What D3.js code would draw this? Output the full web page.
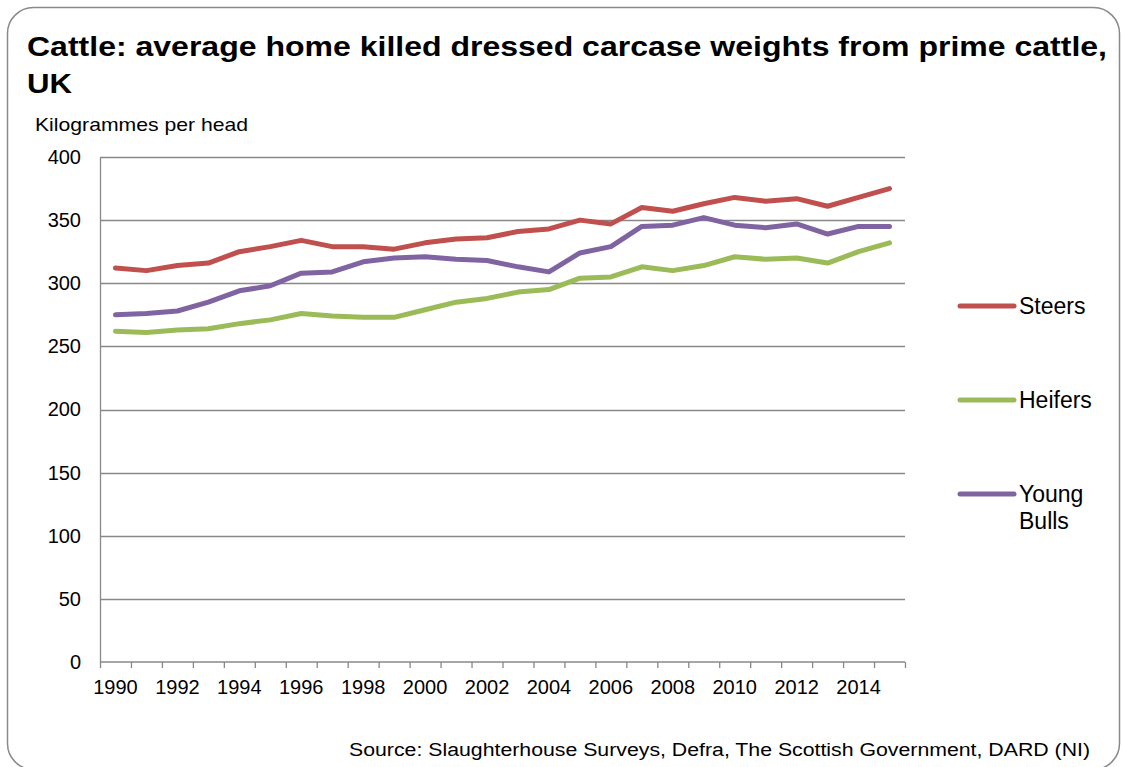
<!DOCTYPE html>
<html>
<head>
<meta charset="utf-8">
<script src="https://cdn.jsdelivr.net/npm/d3@7"></script>
<style>
  body { margin: 0; background: #fff; }
  svg { display: block; font-family: "Liberation Sans", Arial, sans-serif; }
</style>
</head>
<body>
<svg width="1123" height="767"></svg>
<script>
// data
var years = d3.range(1990, 2016);
var steers = [312, 310, 314, 316, 325, 329, 334, 329, 329, 327, 332, 335, 336, 341, 343, 350, 347, 360, 357, 363, 368, 365, 367, 361, 368, 375];
var heifers = [262, 261, 263, 264, 268, 271, 276, 274, 273, 273, 279, 285, 288, 293, 295, 304, 305, 313, 310, 314, 321, 319, 320, 316, 325, 332];
var bulls = [275, 276, 278, 285, 294, 298, 308, 309, 317, 320, 321, 319, 318, 313, 309, 324, 329, 345, 346, 352, 346, 344, 347, 339, 345, 345];
var yTicks = [0, 50, 100, 150, 200, 250, 300, 350, 400];

var series = [
  {name: ["Steers"], values: steers, color: "#C0504D", ly: 306},
  {name: ["Heifers"], values: heifers, color: "#9BBB59", ly: 400},
  {name: ["Young", "Bulls"], values: bulls, color: "#8064A2", ly: 494}
];

var svg = d3.select("svg");
var pLeft = 100, pRight = 905, pTop = 157, pBottom = 662;

// frame
svg.append("rect")
  .attr("x", 7.5).attr("y", 7.5)
  .attr("width", 1112).attr("height", 762)
  .attr("rx", 26).attr("ry", 26)
  .attr("fill", "none").attr("stroke", "#8a8a8a").attr("stroke-width", 1.5);

// title
var title = svg.append("text")
  .attr("font-weight", "bold").attr("font-size", 28).attr("fill", "#000");
title.append("tspan").attr("x", 27).attr("y", 56)
  .attr("textLength", 1080).attr("lengthAdjust", "spacingAndGlyphs")
  .text("Cattle: average home killed dressed carcase weights from prime cattle,");
title.append("tspan").attr("x", 27).attr("y", 93)
  .attr("textLength", 45).attr("lengthAdjust", "spacingAndGlyphs")
  .text("UK");

svg.append("text")
  .attr("x", 35).attr("y", 131)
  .attr("font-size", 19).attr("fill", "#000")
  .attr("textLength", 213).attr("lengthAdjust", "spacingAndGlyphs")
  .text("Kilogrammes per head");

var x = d3.scaleBand().domain(years).range([pLeft, pRight]);
var xi = d3.scaleLinear().domain([0, years.length]).range([pLeft, pRight]);
var y = d3.scaleLinear().domain([0, 400]).range([pBottom, pTop]);

// gridlines
svg.append("g")
  .selectAll("line")
  .data(yTicks.filter(function(d){ return d > 0; }))
  .enter().append("line")
  .attr("x1", pLeft).attr("x2", pRight)
  .attr("y1", function(d){ return Math.round(y(d)) + 0.5; })
  .attr("y2", function(d){ return Math.round(y(d)) + 0.5; })
  .attr("stroke", "#888").attr("stroke-width", 1.3);

// y axis
var yAxis = svg.append("g")
  .attr("transform", "translate(" + pLeft + ",0)")
  .call(d3.axisLeft(y).tickValues(yTicks).tickSize(0).tickPadding(19));
yAxis.select(".domain").attr("stroke", "#888").attr("stroke-width", 1.3);
yAxis.selectAll("text").attr("font-size", 20).attr("font-family", "Liberation Sans, Arial, sans-serif").attr("fill", "#000");

// x axis ticks at band boundaries
var xTickG = svg.append("g")
  .attr("transform", "translate(0," + pBottom + ")")
  .call(d3.axisBottom(xi).tickValues(d3.range(0, years.length + 1)).tickSize(6).tickFormat(""));
xTickG.selectAll("line, path").attr("stroke", "#888").attr("stroke-width", 1.3);
xTickG.select(".domain").attr("d", "M" + pLeft + ",0H" + pRight);

// x labels
var xLab = svg.append("g")
  .attr("transform", "translate(0," + pBottom + ")")
  .call(d3.axisBottom(x).tickValues(years.filter(function(d){ return d % 2 === 0; })).tickSize(0).tickPadding(18));
xLab.select(".domain").remove();
xLab.selectAll("text").attr("font-size", 20).attr("font-family", "Liberation Sans, Arial, sans-serif").attr("fill", "#000");

// lines
var line = d3.line()
  .x(function(d, i){ return x(years[i]) + x.bandwidth() / 2; })
  .y(function(d){ return y(d); });

svg.append("g").selectAll("path")
  .data(series)
  .enter().append("path")
  .attr("d", function(s){ return line(s.values); })
  .attr("fill", "none")
  .attr("stroke", function(s){ return s.color; })
  .attr("stroke-width", 5)
  .attr("stroke-linejoin", "round")
  .attr("stroke-linecap", "round");

// legend
var leg = svg.append("g").selectAll("g")
  .data(series)
  .enter().append("g");
leg.append("line")
  .attr("x1", 960).attr("x2", 1014)
  .attr("y1", function(s){ return s.ly; }).attr("y2", function(s){ return s.ly; })
  .attr("stroke", function(s){ return s.color; })
  .attr("stroke-width", 5).attr("stroke-linecap", "round");
leg.append("text")
  .attr("font-size", 23).attr("fill", "#000")
  .selectAll("tspan")
  .data(function(s){ return s.name.map(function(n, i){ return {n: n, y: s.ly + 8 + i * 27}; }); })
  .enter().append("tspan")
  .attr("x", 1019).attr("y", function(d){ return d.y; })
  .text(function(d){ return d.n; });

// source
svg.append("text")
  .attr("x", 1090).attr("y", 756)
  .attr("text-anchor", "end")
  .attr("font-size", 18).attr("fill", "#000")
  .attr("textLength", 741).attr("lengthAdjust", "spacingAndGlyphs")
  .text("Source: Slaughterhouse Surveys, Defra, The Scottish Government, DARD (NI)");
</script>
</body>
</html>
